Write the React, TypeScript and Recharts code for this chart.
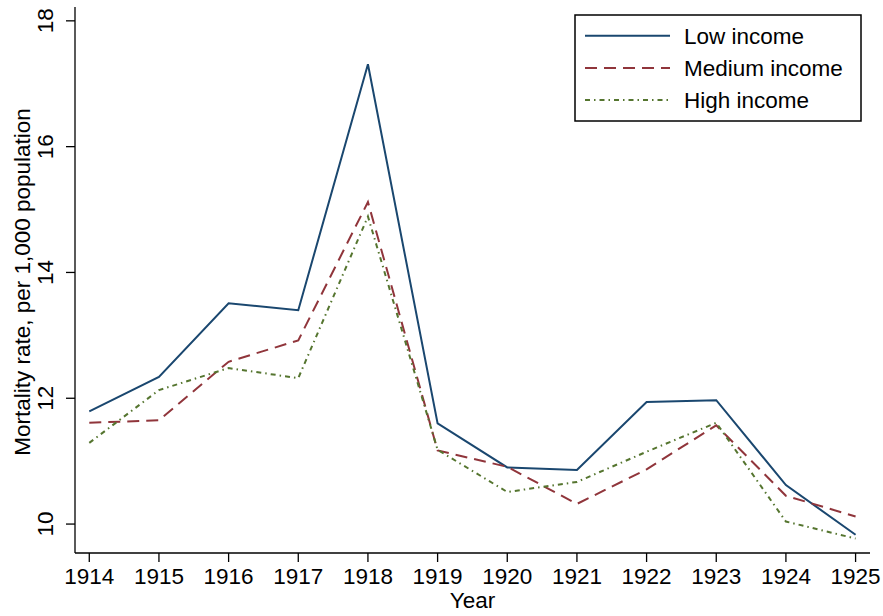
import { LineChart, Line, XAxis, YAxis } from "recharts";

const years = [1914, 1915, 1916, 1917, 1918, 1919, 1920, 1921, 1922, 1923, 1924, 1925];
const lowIncome = [11.79, 12.34, 13.51, 13.4, 17.31, 11.6, 10.9, 10.86, 11.94, 11.97, 10.62, 9.83];
const mediumIncome = [11.61, 11.65, 12.58, 12.92, 15.12, 11.17, 10.91, 10.32, 10.87, 11.57, 10.45, 10.12];
const highIncome = [11.29, 12.13, 12.48, 12.32, 14.89, 11.18, 10.51, 10.67, 11.15, 11.61, 10.04, 9.77];
const yTicks = [10, 12, 14, 16, 18];

const SERIES = [
  { key: "low", name: "Low income", color: "#1a476f", dash: undefined },
  { key: "medium", name: "Medium income", color: "#90353b", dash: "12 7" },
  { key: "high", name: "High income", color: "#55752f", dash: "5 4 1.5 4" },
];

const FONT = "'Liberation Sans', Arial, sans-serif";
const FS = 22.5;

const data = years.map((year, i) => ({
  year,
  low: lowIncome[i],
  medium: mediumIncome[i],
  high: highIncome[i],
}));

const YTick = (props: any) => {
  const { x, y, payload } = props;
  return (
    <text
      x={0}
      y={0}
      transform={`translate(${x - 11},${y}) rotate(-90)`}
      textAnchor="middle"
      fontSize={FS}
      fill="#000"
      fontFamily={FONT}
    >
      {payload.value}
    </text>
  );
};

const YLabel = (props: any) => {
  const { viewBox } = props;
  const cy = viewBox.y + viewBox.height / 2 + 2;
  return (
    <text
      x={0}
      y={0}
      transform={`translate(${viewBox.x + 15},${cy}) rotate(-90)`}
      textAnchor="middle"
      fontSize={FS}
      fill="#000"
      fontFamily={FONT}
    >
      Mortality rate, per 1,000 population
    </text>
  );
};

// legend drawn by hand so it does not take space from the plot
const LegendBox = () => (
  <svg
    width={290}
    height={110}
    style={{ position: "absolute", left: 573, top: 13, fontFamily: FONT }}
  >
    <rect x={2} y={2} width={286} height={106} fill="#fff" stroke="#000" strokeWidth={1.5} />
    {SERIES.map((s, i) => (
      <g key={s.key}>
        <line
          x1={12}
          x2={97}
          y1={22.7 + i * 32.2}
          y2={22.7 + i * 32.2}
          stroke={s.color}
          strokeWidth={2}
          strokeDasharray={s.dash}
        />
        <text x={111} y={22.7 + i * 32.2 + 8} fontSize={FS} fill="#000">
          {s.name}
        </text>
      </g>
    ))}
  </svg>
);

export default function App() {
  return (
    <div style={{ position: "absolute", left: 0, top: 0, width: 883, height: 616, background: "#fff" }}>
      <LineChart
        width={883}
        height={616}
        data={data}
        margin={{ top: 7, right: 13, bottom: 8, left: 15 }}
        style={{ fontFamily: FONT }}
      >
        <XAxis
          dataKey="year"
          type="number"
          domain={[1913.795, 1925.207]}
          ticks={years}
          allowDataOverflow
          height={55}
          tickSize={9}
          tickMargin={6}
          stroke="#000"
          strokeWidth={1.3}
          tick={{ fill: "#000", fontSize: FS }}
          label={{ value: "Year", position: "insideBottom", offset: 0, fill: "#000", fontSize: FS }}
        />
        <YAxis
          type="number"
          domain={[9.54, 18.22]}
          ticks={yTicks}
          allowDataOverflow
          width={60}
          tickSize={9}
          stroke="#000"
          strokeWidth={1.3}
          tick={<YTick />}
          label={<YLabel />}
        />
        {SERIES.map((s) => (
          <Line
            key={s.key}
            dataKey={s.key}
            name={s.name}
            stroke={s.color}
            strokeWidth={2}
            strokeDasharray={s.dash}
            dot={false}
            activeDot={false}
            isAnimationActive={false}
          />
        ))}
      </LineChart>
      <LegendBox />
    </div>
  );
}
